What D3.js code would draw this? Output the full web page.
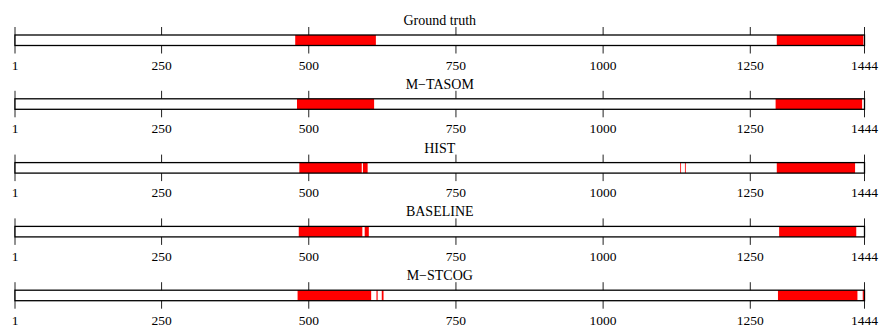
<!DOCTYPE html>
<html lang="en">
<head>
  <meta charset="utf-8">
  <title>Segmentation results</title>
  <script src="https://cdnjs.cloudflare.com/ajax/libs/d3/7.8.5/d3.min.js"></script>
  <style>
    html, body { margin: 0; padding: 0; background: #fff; }
    text { font-family: "Liberation Serif", "Times New Roman", serif; fill: #000; }
  </style>
</head>
<body>
<svg id="chart" width="880" height="327"></svg>
<script>
  // panel titles, top to bottom
  var methods = ["Ground truth", "M\u2212TASOM", "HIST", "BASELINE", "M\u2212STCOG"];

  // red segments [start, end] for each method
  var groundTruth = [[477, 614], [1295, 1442]];
  var mTasom      = [[480, 611], [1293, 1440]];
  var hist        = [[484, 590], [592, 600], [1131, 1132], [1139, 1140], [1295, 1428]];
  var baseline    = [[483, 591], [595, 602], [1299, 1430]];
  var mStcog      = [[481, 606], [615, 617], [624, 627], [1297, 1432], [1441, 1443]];

  var segments = [groundTruth, mTasom, hist, baseline, mStcog];
  var tickValues = [1, 250, 500, 750, 1000, 1250, 1444];

  var svg = d3.select("#chart");
  var x = d3.scaleLinear().domain([1, 1444]).range([15, 864.5]);

  var barTop0 = 35, step = 63.8, barH = 10.5;

  methods.forEach(function (name, i) {
    var top = barTop0 + i * step;
    var g = svg.append("g").attr("transform", "translate(0," + top + ")");

    g.append("text")
      .attr("x", (x.range()[0] + x.range()[1]) / 2)
      .attr("y", -10)
      .attr("text-anchor", "middle")
      .style("font-size", "14px")
      .text(name);

    // ticks crossing the bar
    g.selectAll("line.tick").data(tickValues).enter()
      .append("line")
      .attr("class", "tick")
      .attr("x1", d => x(d)).attr("x2", d => x(d))
      .attr("y1", -8).attr("y2", barH + 8)
      .attr("stroke", "#222").attr("stroke-width", 1);

    // white bar background
    g.append("rect")
      .attr("x", x(1)).attr("y", 0)
      .attr("width", x(1444) - x(1)).attr("height", barH)
      .attr("fill", "#fff");

    g.selectAll("rect.seg").data(segments[i]).enter()
      .append("rect")
      .attr("class", "seg")
      .attr("x", d => x(d[0]))
      .attr("y", 0)
      .attr("width", d => Math.max(x(d[1]) - x(d[0]), 0.8))
      .attr("height", barH)
      .attr("fill", "#ff0000");

    // outline
    g.append("rect")
      .attr("x", x(1)).attr("y", 0)
      .attr("width", x(1444) - x(1)).attr("height", barH)
      .attr("fill", "none")
      .attr("stroke", "#000").attr("stroke-width", 1.3);

    g.selectAll("text.lab").data(tickValues).enter()
      .append("text")
      .attr("class", "lab")
      .attr("x", d => x(d))
      .attr("y", barH + 24)
      .attr("text-anchor", "middle")
      .style("font-size", "13.5px")
      .text(d => d);
  });
</script>
</body>
</html>
